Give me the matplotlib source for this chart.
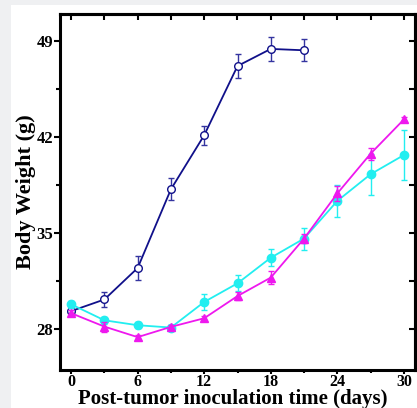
import matplotlib
matplotlib.use("Agg")
import matplotlib.pyplot as plt
from matplotlib.patches import Rectangle
from matplotlib.ticker import MultipleLocator

days_a = [0, 3, 6, 9, 12, 15, 18, 21]
weight_a = [29.3, 30.15, 32.45, 38.2, 42.15, 47.2, 48.45, 48.35]
err_a = [0.3, 0.55, 0.85, 0.8, 0.7, 0.85, 0.9, 0.8]

days_b = [0, 3, 6, 9, 12, 15, 18, 21, 24, 27, 30]
weight_b = [29.8, 28.63, 28.27, 28.1, 29.97, 31.33, 33.2, 34.6, 37.35, 39.3, 40.7]
err_b = [0.27, 0.25, 0.2, 0.2, 0.56, 0.58, 0.64, 0.8, 1.15, 1.5, 1.8]

days_c = [0, 3, 6, 9, 12, 15, 18, 21, 24, 27, 30]
weight_c = [29.15, 28.17, 27.4, 28.15, 28.78, 30.4, 31.75, 34.6, 37.9, 40.8, 43.3]
err_c = [0.2, 0.36, 0.15, 0.15, 0.15, 0.3, 0.5, 0.3, 0.55, 0.45, 0.15]

xticks = [0, 6, 12, 18, 24, 30]
yticks = [28, 35, 42, 49]

plt.rcParams['font.family'] = ['Liberation Serif', 'DejaVu Serif']
plt.rcParams['font.weight'] = 'bold'

fig = plt.figure(figsize=(4.17, 4.08), dpi=100)
fig.patch.set_facecolor('#eff0f2')
bg = Rectangle((11/417, 0), 1 - 11/417, 1 - 5/408,
               transform=fig.transFigure, facecolor='white',
               edgecolor='none', zorder=-10)
fig.add_artist(bg)

ax = fig.add_axes([60/417, 1 - 370/408, 355/417, 356/408])
ax.set_facecolor('white')

navy = '#10108a'
cyan = '#22eef0'
magenta = '#ee18ee'

ax.errorbar(days_a, weight_a, yerr=err_a, color=navy, lw=1.3, marker='o',
            ms=5.5, mfc='white', mec=navy, mew=1.0, capsize=2.5, elinewidth=1.0,
            capthick=1.0, ecolor='#3434a0', zorder=3)
ax.errorbar(days_b, weight_b, yerr=err_b, color=cyan, lw=1.3, marker='o',
            ms=6, mfc=cyan, mec=cyan, capsize=2.5, elinewidth=1.0,
            capthick=1.0, zorder=4)
ax.errorbar(days_c, weight_c, yerr=err_c, color=magenta, lw=1.3, marker='^',
            ms=6, mfc=magenta, mec=magenta, capsize=2.5, elinewidth=1.0,
            capthick=1.0, zorder=5)

ax.set_xlim(-1, 31)
ax.set_ylim(25, 51)
ax.set_xticks(xticks)
ax.set_yticks(yticks)
ax.xaxis.set_minor_locator(MultipleLocator(3))
ax.yaxis.set_minor_locator(MultipleLocator(3.5))

for s in ax.spines.values():
    s.set_linewidth(2.2)

ax.tick_params(axis='both', which='both', width=1.5, labelsize=12)
ax.tick_params(axis='x', which='both', labelsize=11.5)
ax.tick_params(axis='x', which='major', length=3, direction='out', pad=0)
ax.tick_params(axis='x', which='minor', length=2.5, direction='out')
ax.tick_params(axis='y', which='major', length=4, direction='out', pad=1)
ax.tick_params(axis='y', which='minor', length=3, direction='out')

axt = ax.secondary_xaxis('top')
axt.set_xticks(list(range(0, 31, 3)))
axt.tick_params(direction='in', length=4, width=1.5, labeltop=False)
axr = ax.secondary_yaxis('right')
axr.set_yticks([28 + 3.5 * i for i in range(7)])
axr.tick_params(direction='in', length=4, width=1.5, labelright=False)
axt.spines['top'].set_linewidth(2.2)
axr.spines['right'].set_linewidth(2.2)

for lbl in ax.get_xticklabels() + ax.get_yticklabels():
    lbl.set_fontweight('bold')

ax.set_ylabel('Body Weight (g)', fontsize=16, fontweight='bold', labelpad=0)
ax.set_xlabel('Post-tumor inoculation time (days)', fontsize=15,
              fontweight='bold')
ax.xaxis.set_label_coords(0.487, -0.054, transform=ax.transAxes)
ax.xaxis.label.set_va('top')

fig.savefig('out.png', dpi=100, facecolor=fig.get_facecolor())
